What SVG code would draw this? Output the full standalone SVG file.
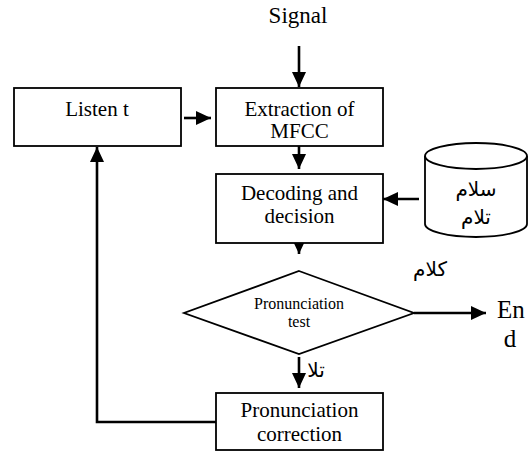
<svg xmlns="http://www.w3.org/2000/svg" width="530" height="452" viewBox="0 0 530 452">
<style>
.box{fill:#fff;stroke:#000;stroke-width:1.8}
.ln{fill:none;stroke:#000;stroke-width:2.6}
.t{font-family:'Liberation Serif',serif;font-size:21px;fill:#000;text-anchor:middle}
.s{font-family:'Liberation Serif',serif;font-size:16px;fill:#000;text-anchor:middle}
.e{font-family:'Liberation Serif',serif;font-size:25px;fill:#000}
.ar{font-family:'DejaVu Sans',sans-serif;font-size:20px;fill:#000;text-anchor:middle}
</style>
<defs>
<marker id="ah" markerUnits="userSpaceOnUse" markerWidth="16" markerHeight="16" refX="15" refY="7" orient="auto" viewBox="0 0 16 14">
<path d="M0,0 L15,7 L0,14 z" fill="#000"/>
</marker>
</defs>
<text class="t" x="298" y="23" style="font-size:23px">Signal</text>
<g id="connectors">
<line class="ln" x1="299" y1="46" x2="299" y2="87" marker-end="url(#ah)"/>
<line class="ln" x1="184" y1="118" x2="211" y2="118" marker-end="url(#ah)"/>
<line class="ln" x1="299" y1="146" x2="299" y2="169" marker-end="url(#ah)"/>
<line class="ln" x1="419" y1="199" x2="383" y2="199" marker-end="url(#ah)"/>
<line class="ln" x1="299" y1="243" x2="299" y2="254" marker-end="url(#ah)"/>
<line class="ln" x1="414" y1="313" x2="486" y2="313" marker-end="url(#ah)"/>
<line class="ln" x1="299" y1="357" x2="299" y2="388" marker-end="url(#ah)"/>
<polyline class="ln" points="216,422 97,422 97,147" marker-end="url(#ah)"/>
</g>
<g id="listen">
<rect class="box" x="14" y="88" width="167" height="58"/>
<text class="t" x="97" y="116">Listen t</text>
</g>
<g id="extraction">
<rect class="box" x="216" y="88" width="167" height="58"/>
<text class="t" x="299.5" y="116">Extraction of</text>
<text class="t" x="299.5" y="138">MFCC</text>
</g>
<g id="decoding">
<rect class="box" x="216" y="174" width="167" height="69"/>
<text class="t" x="299.5" y="200">Decoding and</text>
<text class="t" x="299.5" y="223">decision</text>
</g>
<g id="database">
<path class="box" d="M425,156 L425,224 A51,13 0 0 0 527,224 L527,156"/>
<ellipse class="box" cx="476" cy="156" rx="51" ry="13"/>
<text class="ar" x="476" y="196">سلام</text>
<text class="ar" x="476" y="224">تلام</text>
</g>
<text class="ar" x="430" y="276">كلام</text>
<g id="test">
<polygon class="box" points="299,271 414,313 299,354 184,313"/>
<text class="s" x="299" y="309">Pronunciation</text>
<text class="s" x="299" y="327">test</text>
</g>
<g id="end">
<text class="e" x="497" y="318">En</text>
<text class="e" x="510" y="347" text-anchor="middle">d</text>
</g>
<text class="ar" x="316" y="377">تلا</text>
<g id="correction">
<rect class="box" x="216" y="393" width="167" height="57"/>
<text class="t" x="299.5" y="417">Pronunciation</text>
<text class="t" x="299.5" y="441">correction</text>
</g>
</svg>
